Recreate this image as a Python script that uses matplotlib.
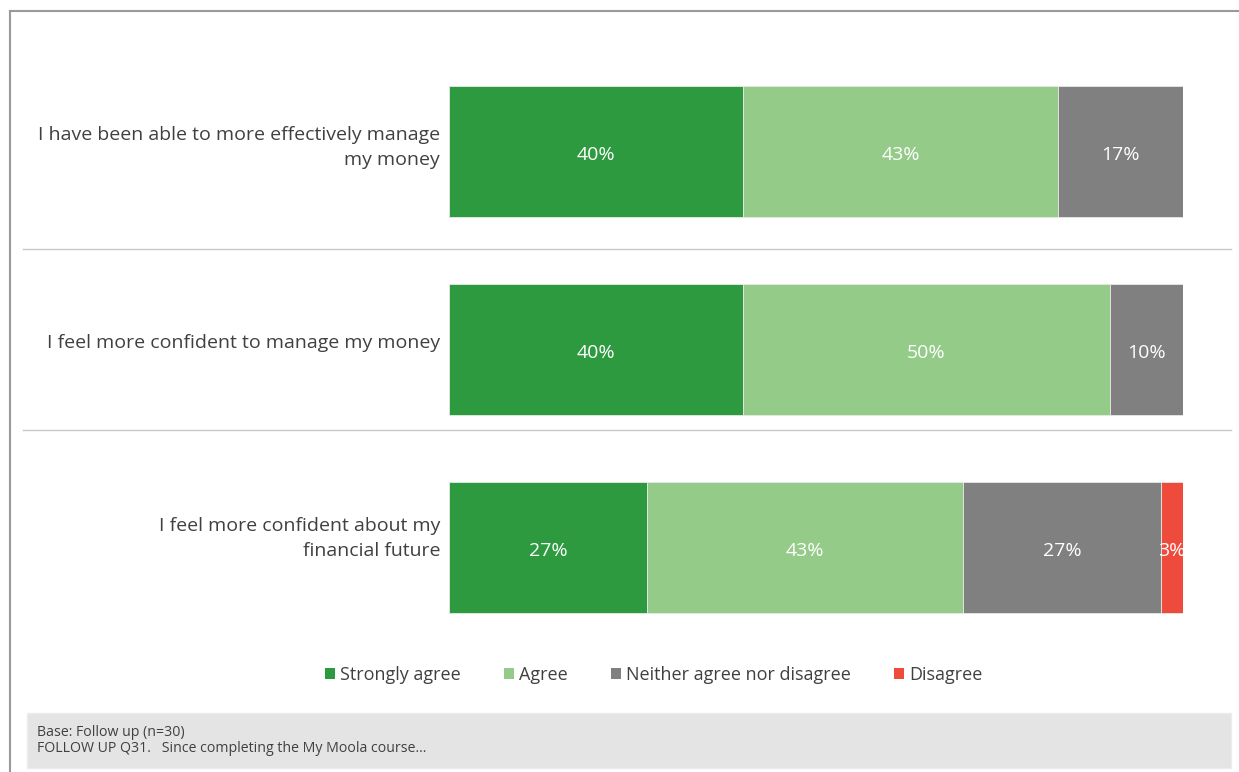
import matplotlib
matplotlib.use("Agg")
import matplotlib.pyplot as plt
from matplotlib.patches import Rectangle, Patch
from matplotlib.lines import Line2D

plt.rcParams['font.family'] = ['Open Sans', 'DejaVu Sans']

statements = [
    "I have been able to more effectively manage\nmy money",
    "I feel more confident to manage my money",
    "I feel more confident about my\nfinancial future",
]
series_names = ["Strongly agree", "Agree", "Neither agree nor disagree", "Disagree"]
strongly_agree = [40, 40, 27]
agree = [43, 50, 43]
neither = [17, 10, 27]
disagree = [0, 0, 3]
colors = ["#2E9A40", "#95CB89", "#808080", "#EE4B3D"]

W, H = 1239, 772
fig = plt.figure(figsize=(W / 100, H / 100), dpi=100)

ax = fig.add_axes([449 / W, (H - 640) / H, 734 / W, 580 / H])
ax.set_xlim(0, 100)
ax.set_ylim(2.467, -0.462)
ax.axis("off")

text_color = "#404040"
values = [strongly_agree, agree, neither, disagree]
left = [0] * len(statements)
for name, vals, col in zip(series_names, values, colors):
    for i, v in enumerate(vals):
        if v <= 0:
            continue
        ax.barh(i, v, left=left[i], height=0.662, color=col,
                edgecolor="#e8e8e8", linewidth=0.6)
        ax.text(left[i] + v / 2, i + 0.02, f"{v}%", ha="center", va="center",
                color="white", fontsize=14)
        left[i] += v

for i, s in enumerate(statements):
    ax.text(-1.2, i - 0.018 - 0.014 * i, s, ha="right", va="center",
            fontsize=14, color=text_color, linespacing=1.5)

# separators between statements
for yp in (249, 430):
    fig.add_artist(Line2D([23 / W, 1231 / W], [1 - yp / H] * 2,
                          color="#c8c8c8", linewidth=1))

# outer frame (top and left edges)
fig.add_artist(Line2D([10 / W, 1], [1 - 11 / H] * 2, color="#9a9a9a", linewidth=1.5))
fig.add_artist(Line2D([10 / W, 10 / W], [0, 1 - 11 / H], color="#9a9a9a", linewidth=1.5))

# legend
handles = [Patch(facecolor=c, edgecolor="none") for c in colors]
fig.legend(handles, series_names, loc="center", ncol=4,
           bbox_to_anchor=(654 / W, 1 - 675 / H), frameon=False,
           fontsize=13, handlelength=0.55, handleheight=0.55,
           handletextpad=0.28, columnspacing=2.4, labelcolor=text_color)

# footer note box
fig.add_artist(Rectangle((27 / W, 1 - 768 / H), (1231 - 27) / W, 55 / H,
                         transform=fig.transFigure, facecolor="#e4e4e4",
                         edgecolor="#ececec", linewidth=1))
fig.text(37 / W, 1 - 733 / H, "Base: Follow up (n=30)", fontsize=10.2,
         color=text_color, va="center")
fig.text(37 / W, 1 - 748 / H,
         "FOLLOW UP Q31.   Since completing the My Moola course\u2026",
         fontsize=10.2, color=text_color, va="center")

fig.savefig("out.png", dpi=100, facecolor="white")
